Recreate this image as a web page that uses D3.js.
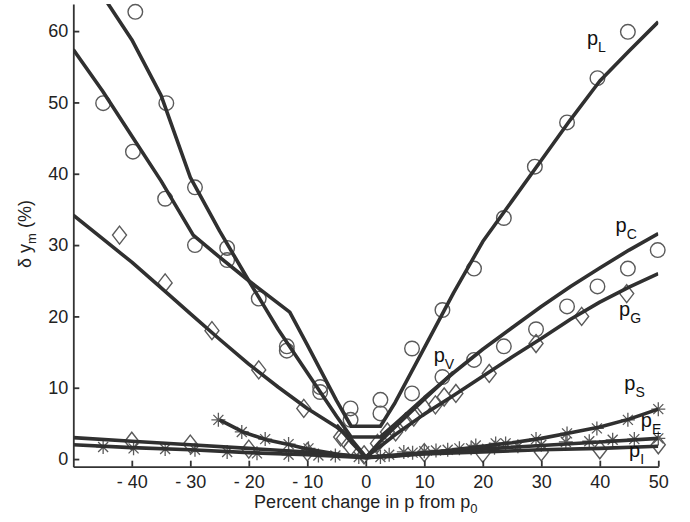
<!DOCTYPE html>
<html lang="en">
<head>
<meta charset="UTF-8">
<title>delta y_m vs percent change</title>
<style>
body {
    margin: 0;
    background-color: #fff;
    font-family: "Liberation Sans", Arial, sans-serif;
}
</style>
</head>
<body>
<div id="plot"></div>
<script src="https://cdn.jsdelivr.net/npm/d3@7"></script>
<script>

const w = 690,
      h = 522;

// tick values
const xTicks = [-40, -30, -20, -10, 0, 10, 20, 30, 40, 50];
const yTicks = [0, 10, 20, 30, 40, 50, 60];

// model curves  [percent change, delta y_m]
const lineL = [[-50,57.4],[-45,51.6],[-40,45.3],[-35,39.0],[-29.5,31.4],[-25,28.3],[-20,25.0],[-13,20.6],
               [-10,16.0],[-5,8.2],[-2.5,4.6],[2.5,4.6],[5,7.9],[10,15.6],[15,23.3],[20,30.5],[25,36.2],
               [30,41.9],[35,47.6],[40,53.0],[45,57.2],[50,61.3]];
const lineC = [[-45,65.0],[-40,58.8],[-35,51.0],[-30,39.5],[-25,32.0],[-20,25.0],[-15,18.2],[-10,12.1],
               [-5,6.0],[-2.5,3.1],[2.5,3.1],[5,4.9],[10,8.6],[15,12.1],[20,15.4],[25,18.4],[30,21.4],
               [35,24.2],[40,26.8],[45,29.3],[50,31.6]];
const lineG = [[-50,34.2],[-45,30.9],[-40,27.6],[-34.3,23.5],[-30,20.4],[-25,16.8],[-20,13.3],[-15,10.1],
               [-10,7.1],[-5,4.5],[-2.5,2.8],[0,0.3],[2.5,1.8],[5,3.4],[10,6.3],[15,8.9],[20,11.6],
               [25,14.3],[30,16.9],[35,19.6],[40,22.0],[45,24.1],[50,26.0]];
const lineV = [[-5,4.8],[-2.5,2.4],[0,0.2],[2.5,2.5],[5,4.5],[10,8.4],[15,12.2]];
const lineS = [[-25,5.5],[-21,3.8],[-17,2.7],[-13,2.0],[-10,1.4],[-5,0.7],[0,0.2],[5,0.4],[10,0.8],
               [15,1.3],[20,1.8],[25,2.3],[30,2.9],[35,3.7],[40,4.5],[45,5.6],[50,7.0]];
const lineE = [[-50,2.0],[-40,1.6],[-30,1.3],[-20,0.9],[-10,0.6],[0,0.2],[10,0.9],[20,1.4],[30,1.9],
               [40,2.4],[50,2.9]];
const lineI = [[-50,3.0],[-40,2.5],[-30,2.0],[-20,1.5],[-10,1.0],[0,0.3],[10,0.7],[20,1.0],[30,1.3],
               [40,1.5],[50,1.8]];

// measured points
const circlesUpper = [[-39.4,62.7],[-34.1,49.9],[-29.2,38.1],[-23.7,29.6],[-13.5,15.8],[-7.8,10.1],[-2.6,7.1],
                      [2.5,8.3],[7.9,15.5],[13.1,20.9],[18.5,26.7],[23.6,33.8],[28.9,41.0],[34.4,47.2],
                      [39.6,53.4],[44.8,59.9]];
const circlesLower = [[-44.9,49.9],[-39.8,43.1],[-34.3,36.5],[-29.2,30.0],[-23.7,27.9],[-18.3,22.5],
                      [-13.5,15.2],[-7.8,9.4],[-2.6,5.5],[2.5,6.4],[7.9,9.2],[13.1,11.5],[18.5,13.9],
                      [23.6,15.8],[29.1,18.2],[34.4,21.4],[39.6,24.2],[44.8,26.7],[49.9,29.3]];
const diamondsG = [[-42.1,31.4],[-34.3,24.7],[-26.3,18.0],[-18.3,12.5],[-10.6,7.1],[-4.3,3.1],
                   [21.1,12.0],[29.1,16.2],[36.9,20.0],[44.6,23.2]];
const diamondsV = [[-3.8,2.9],[-2.6,1.7],[-0.3,0.6],[2.0,2.2],[3.7,3.8],[5.1,3.8],[6.8,5.2],[8.2,5.9],
                   [9.9,7.3],[11.9,7.6],[13.4,8.7],[15.4,9.2]];
const diamondsI = [[-40,2.5],[-30,2.1],[-20,1.4],[-10,1.0],[10,0.9],[20,0.8],[30,1.0],[40,1.3],[50,2.0]];
const starsE = [[-44.9,1.7],[-39.7,1.5],[-34.3,1.4],[-29.2,1.3],[-23.7,1.0],[-18.6,0.8],[-13.2,0.6],
                [-8.1,0.5],[-5.2,0.5],[-1.2,0.3],[2.5,0.3],[6.5,1.0],[10,1.1],[14,1.3],[18,1.5],[22,1.6],
                [26,1.8],[30,2.0],[34.2,2.4],[38.2,2.5],[42.2,2.7],[45.9,2.8],[50,2.9]];
const starsS = [[-25.2,5.5],[-21.2,3.8],[-17.2,2.8],[-13.2,2.1],[-9.8,1.5],[4,0.6],[8,0.9],[12,1.2],
                [16,1.5],[18.8,1.9],[22.2,2.2],[23.9,2.2],[29.1,2.8],[34.4,3.6],[39.5,4.3],[44.8,5.5],
                [50,7.0]];

// curve labels: [main, subscript, x, y]
const curveLabels = [["p","L",37.8,58.1],["p","C",42.7,31.9],["p","G",43.3,20.1],["p","V",11.6,13.6],
                     ["p","S",44.2,9.7],["p","E",47.0,4.5],["p","I",45.0,0.3]];

// set up svg
const plot = d3.select("#plot").append("svg")
    .attr("width", w)
    .attr("height", h);

const x = d3.scaleLinear().domain([-50, 50]).range([73.3, 658.3]);
const y = d3.scaleLinear().domain([-1.07, 63.8]).range([466.7, 4]);

plot.append("clipPath").attr("id", "clip")
    .append("rect")
    .attr("x", x(-50)).attr("y", y(63.8))
    .attr("width", x(50) - x(-50)).attr("height", y(-1.07) - y(63.8));

const markColor = "#5a5a5a";

// markers first, curves drawn over them
const diamond = "M0,-9L7,0L0,9L-7,0Z";
const star = "M-7,0H7M0,-7V7M-5,-5L5,5M-5,5L5,-5";

plot.selectAll(".circ")
    .data(circlesUpper.concat(circlesLower))
    .join("circle")
    .attr("class", "circ")
    .attr("cx", d => x(d[0]))
    .attr("cy", d => y(d[1]))
    .attr("r", 7.3)
    .attr("fill", "none")
    .attr("stroke", markColor)
    .attr("stroke-width", 1.4);

plot.selectAll(".diam")
    .data(diamondsG.concat(diamondsV, diamondsI))
    .join("path")
    .attr("class", "diam")
    .attr("d", diamond)
    .attr("transform", d => `translate(${x(d[0])},${y(d[1])})`)
    .attr("fill", "none")
    .attr("stroke", markColor)
    .attr("stroke-width", 1.4);

plot.selectAll(".star")
    .data(starsE.concat(starsS))
    .join("path")
    .attr("class", "star")
    .attr("d", star)
    .attr("transform", d => `translate(${x(d[0])},${y(d[1])})`)
    .attr("fill", "none")
    .attr("stroke", markColor)
    .attr("stroke-width", 1.3);

// curves
const line = d3.line().x(d => x(d[0])).y(d => y(d[1]));

plot.append("g")
    .attr("clip-path", "url(#clip)")
    .selectAll(".curve")
    .data([lineI, lineE, lineS, lineG, lineV, lineC, lineL])
    .join("path")
    .attr("class", "curve")
    .attr("d", line)
    .attr("fill", "none")
    .attr("stroke", "#303030")
    .attr("stroke-width", 3.6)
    .attr("stroke-linejoin", "round");

// axes
const xAxis = d3.axisBottom(x)
    .tickValues(xTicks)
    .tickSize(-6)
    .tickSizeOuter(0)
    .tickPadding(9)
    .tickFormat(d => d < 0 ? "- " + Math.abs(d) : d);

const yAxis = d3.axisLeft(y)
    .tickValues(yTicks)
    .tickSize(-6)
    .tickSizeOuter(0)
    .tickPadding(5);

const gx = plot.append("g")
    .attr("transform", `translate(0,${y(-1.07)})`)
    .call(xAxis);
const gy = plot.append("g")
    .attr("transform", `translate(${x(-50)},0)`)
    .call(yAxis);

[gx, gy].forEach(g => {
    g.selectAll("path, line").attr("stroke", "#333").attr("stroke-width", 1.8);
    g.selectAll("text")
        .attr("fill", "#222")
        .style("font-family", "Liberation Sans, Arial, sans-serif")
        .style("font-size", "18px");
});

// axis titles
const xt = plot.append("text")
    .attr("x", (x(-50) + x(50)) / 2)
    .attr("y", 508)
    .attr("text-anchor", "middle")
    .attr("fill", "#222")
    .style("font-size", "18px");
xt.append("tspan").text("Percent change in p from p");
xt.append("tspan").attr("dy", 5).style("font-size", "13px").text("0");

const yt = plot.append("text")
    .attr("transform", "translate(31,234) rotate(-90)")
    .attr("text-anchor", "middle")
    .attr("fill", "#222")
    .style("font-size", "18px");
yt.append("tspan").text("\u03B4 y");
yt.append("tspan").attr("dy", 5).style("font-size", "13px").text("m");
yt.append("tspan").attr("dy", -5).text(" (%)");

// curve labels
curveLabels.forEach(([main, sub, lx, ly]) => {
    const t = plot.append("text")
        .attr("x", x(lx))
        .attr("y", y(ly))
        .attr("fill", "#111")
        .style("font-size", "20px");
    t.append("tspan").text(main);
    t.append("tspan").attr("dy", 7).style("font-size", "14px").text(sub);
});
</script>
</body>
</html>
